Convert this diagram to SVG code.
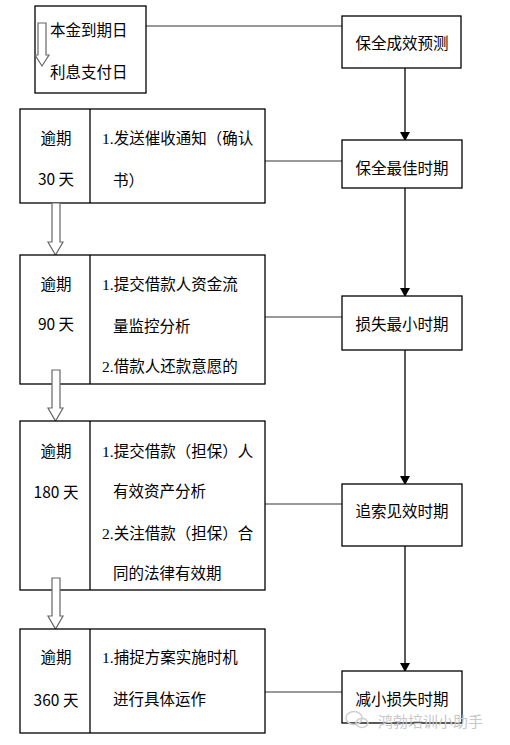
<svg xmlns="http://www.w3.org/2000/svg" width="510" height="745" viewBox="0 0 510 745">
<defs>
<style>
.box{fill:#fff;stroke:#000;stroke-width:1.3}
.t{font-family:"Noto Sans CJK SC","Liberation Sans",sans-serif;font-size:15.5px;fill:#000}
.n{font-family:"Liberation Serif","Noto Sans CJK SC",serif;font-size:15.5px;fill:#000}
.c{text-anchor:middle}
.g{stroke:#777;stroke-width:1.3;fill:none}
.v{stroke:#000;stroke-width:1.3;fill:none}
.ha{fill:#fff;stroke:#666;stroke-width:1.2}
.wm{font-family:"Noto Sans CJK SC",sans-serif;font-size:15px;fill:#c8c8c8}
</style>
<marker id="ah" markerWidth="10" markerHeight="10" refX="8" refY="5" orient="auto" markerUnits="userSpaceOnUse">
<path d="M0,0 L9,5 L0,10 Z" fill="#000"/>
</marker>
</defs>
<rect width="510" height="745" fill="#fff"/>

<g id="connectors">
<line class="g" x1="146" y1="26" x2="342" y2="26"/>
<line class="g" x1="265" y1="161" x2="342" y2="161"/>
<line class="g" x1="265" y1="317" x2="342" y2="317"/>
<line class="g" x1="265" y1="504" x2="342" y2="504"/>
<line class="g" x1="265" y1="692" x2="342" y2="692"/>
<line class="v" x1="405" y1="50" x2="405" y2="140" marker-end="url(#ah)"/>
<line class="v" x1="405" y1="170" x2="405" y2="296" marker-end="url(#ah)"/>
<line class="v" x1="405" y1="328" x2="405" y2="484" marker-end="url(#ah)"/>
<line class="v" x1="405" y1="514" x2="405" y2="671" marker-end="url(#ah)"/>
</g>

<g id="top">
<rect class="box" x="35" y="6" width="111" height="87"/>
<path class="ha" d="M38,23 H46 V55 H49 L42,66 L35,55 H38 Z"/>
<text class="t" x="50" y="36">本金到期日</text>
<text class="t" x="50" y="78">利息支付日</text>
</g>

<g id="r1"><rect class="box" x="342" y="16" width="119" height="52"/><text class="t c" x="402" y="49">保全成效预测</text></g>
<g id="r2"><rect class="box" x="342" y="140" width="120" height="48"/><text class="t c" x="402" y="174">保全最佳时期</text></g>
<g id="r3"><rect class="box" x="342" y="296" width="120" height="54"/><text class="t c" x="402" y="330">损失最小时期</text></g>
<g id="r4"><rect class="box" x="342" y="484" width="120" height="62"/><text class="t c" x="402" y="517">追索见效时期</text></g>
<g id="r5"><rect class="box" x="342" y="671" width="120" height="52"/><text class="t c" x="402" y="705">减小损失时期</text></g>

<g id="d30">
<rect class="box" x="20" y="109" width="245" height="94"/>
<line class="v" x1="90" y1="109" x2="90" y2="203"/>
<text class="t c" x="56" y="144">逾期</text>
<text class="t c" x="56" y="185">30 天</text>
<text class="t" x="102" y="144"><tspan class="n">1.</tspan>发送催收通知（确认</text>
<text class="t" x="113" y="186">书）</text>
</g>
<path class="ha" d="M52,203 H60 V242 H63 L55.5,255 L48,242 H52 Z"/>

<g id="d90">
<rect class="box" x="20" y="255" width="245" height="129"/>
<line class="v" x1="90" y1="255" x2="90" y2="384"/>
<text class="t c" x="56" y="290">逾期</text>
<text class="t c" x="56" y="330">90 天</text>
<text class="t" x="102" y="290"><tspan class="n">1.</tspan>提交借款人资金流</text>
<text class="t" x="113" y="332">量监控分析</text>
<text class="t" x="102" y="372"><tspan class="n">2.</tspan>借款人还款意愿的</text>
</g>
<path class="ha" d="M52,370 H60 V408 H63 L55.5,421 L48,408 H52 Z"/>

<g id="d180">
<rect class="box" x="20" y="421" width="245" height="169"/>
<line class="v" x1="90" y1="421" x2="90" y2="590"/>
<text class="t c" x="56" y="457">逾期</text>
<text class="t c" x="56" y="498">180 天</text>
<text class="t" x="102" y="457"><tspan class="n">1.</tspan>提交借款（担保）人</text>
<text class="t" x="113" y="497">有效资产分析</text>
<text class="t" x="102" y="539"><tspan class="n">2.</tspan>关注借款（担保）合</text>
<text class="t" x="113" y="579">同的法律有效期</text>
</g>
<path class="ha" d="M52,578 H60 V616 H63 L55.5,629 L48,616 H52 Z"/>

<g id="d360">
<rect class="box" x="20" y="629" width="245" height="104"/>
<line class="v" x1="90" y1="629" x2="90" y2="733"/>
<text class="t c" x="56" y="663">逾期</text>
<text class="t c" x="56" y="706">360 天</text>
<text class="t" x="102" y="663"><tspan class="n">1.</tspan>捕捉方案实施时机</text>
<text class="t" x="113" y="705">进行具体运作</text>
</g>

<g id="watermark">
<ellipse cx="354" cy="718" rx="8" ry="6.5" fill="none" stroke="#d0d0d0" stroke-width="1.5"/>
<ellipse cx="362" cy="723" rx="6" ry="4.5" fill="none" stroke="#d0d0d0" stroke-width="1.5"/>
<text class="wm" x="378" y="727">鸿勃培训小助手</text>
</g>
</svg>
